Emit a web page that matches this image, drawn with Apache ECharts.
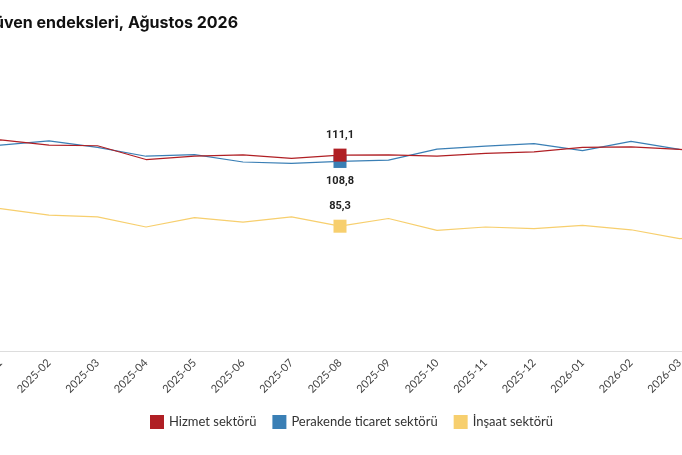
<!DOCTYPE html>
<html><head><meta charset="utf-8">
<script src="https://cdn.jsdelivr.net/npm/echarts@6/dist/echarts.min.js"></script>
<style>
html,body{margin:0;padding:0;overflow:hidden;width:682px;height:455px;background:#fff;}
#c{position:absolute;left:-148.5px;top:0;width:896px;height:455px;}
</style></head>
<body><div id="c"></div>
<script>
// months (first and last sit just outside the visible window)
var months = ['2024-12','2025-01','2025-02','2025-03','2025-04','2025-05','2025-06','2025-07','2025-08','2025-09','2025-10','2025-11','2025-12','2026-01','2026-02','2026-03','2026-04'];
var hizmet    = [115.5,116.6,114.7,114.5,109.5,110.7,111.2,109.9,111.1,111.2,110.7,111.7,112.3,113.9,114.1,113.2,112.0];
var perakende = [113.0,114.7,116.3,113.9,110.7,111.3,108.6,108.1,108.8,109.3,113.3,114.4,115.3,112.7,116.1,113.2,112.5];
var insaat    = [92.5,91.7,89.3,88.7,85.0,88.4,86.8,88.7,85.3,88.1,83.8,85.0,84.4,85.6,84.0,80.8,81.5];
var focusIdx = 8;

function mark(arr, color, pos){
  return arr.map(function(v,i){
    if(i!==focusIdx) return v;
    return {value:v, symbol:'rect', symbolSize:13, itemStyle:{color:color},
      label:{show:true, position:pos, distance:8, formatter:function(p){return String(p.value).replace('.',',');},
        color:'#222', fontWeight:'bold', fontSize:11, fontFamily:'Roboto'}};
  });
}
var cRed='#b01f24', cBlue='#3a7fb5', cYel='#f7cf6e';
var chart = echarts.init(document.getElementById('c'));
chart.setOption({
  animation:false,
  title:{text:'Güven endeksleri, Ağustos 2026', left:125, top:10,
    textStyle:{fontSize:16, fontWeight:'bold', color:'#111', fontFamily:'Inter'}},
  legend:{left:293, top:410, itemWidth:14, itemHeight:14, itemGap:16, icon:'rect',
    textStyle:{fontSize:13, color:'#333', fontFamily:'Lato'},
    data:['Hizmet sektörü','Perakende ticaret sektörü','İnşaat sektörü']},
  grid:{left:100, right:20, top:75.5, bottom:104},
  xAxis:{type:'category', data:months, boundaryGap:false,
    axisLine:{lineStyle:{color:'#ddd'}}, axisTick:{show:false},
    axisLabel:{rotate:45, color:'#444', fontSize:11, fontFamily:'Lato', interval:0, margin:10}},
  yAxis:{type:'value', min:40, max:140, show:false, splitLine:{show:false}},
  series:[
    {name:'Hizmet sektörü', type:'line', z:3, data:mark(hizmet,cRed,'top'), color:cRed,
      symbol:'none', lineStyle:{width:1.2}},
    {name:'Perakende ticaret sektörü', type:'line', z:2, data:mark(perakende,cBlue,'bottom'), color:cBlue,
      symbol:'none', lineStyle:{width:1.2}},
    {name:'İnşaat sektörü', type:'line', data:mark(insaat,cYel,'top'), color:cYel,
      symbol:'none', lineStyle:{width:1.2}}
  ]
});
</script></body></html>
